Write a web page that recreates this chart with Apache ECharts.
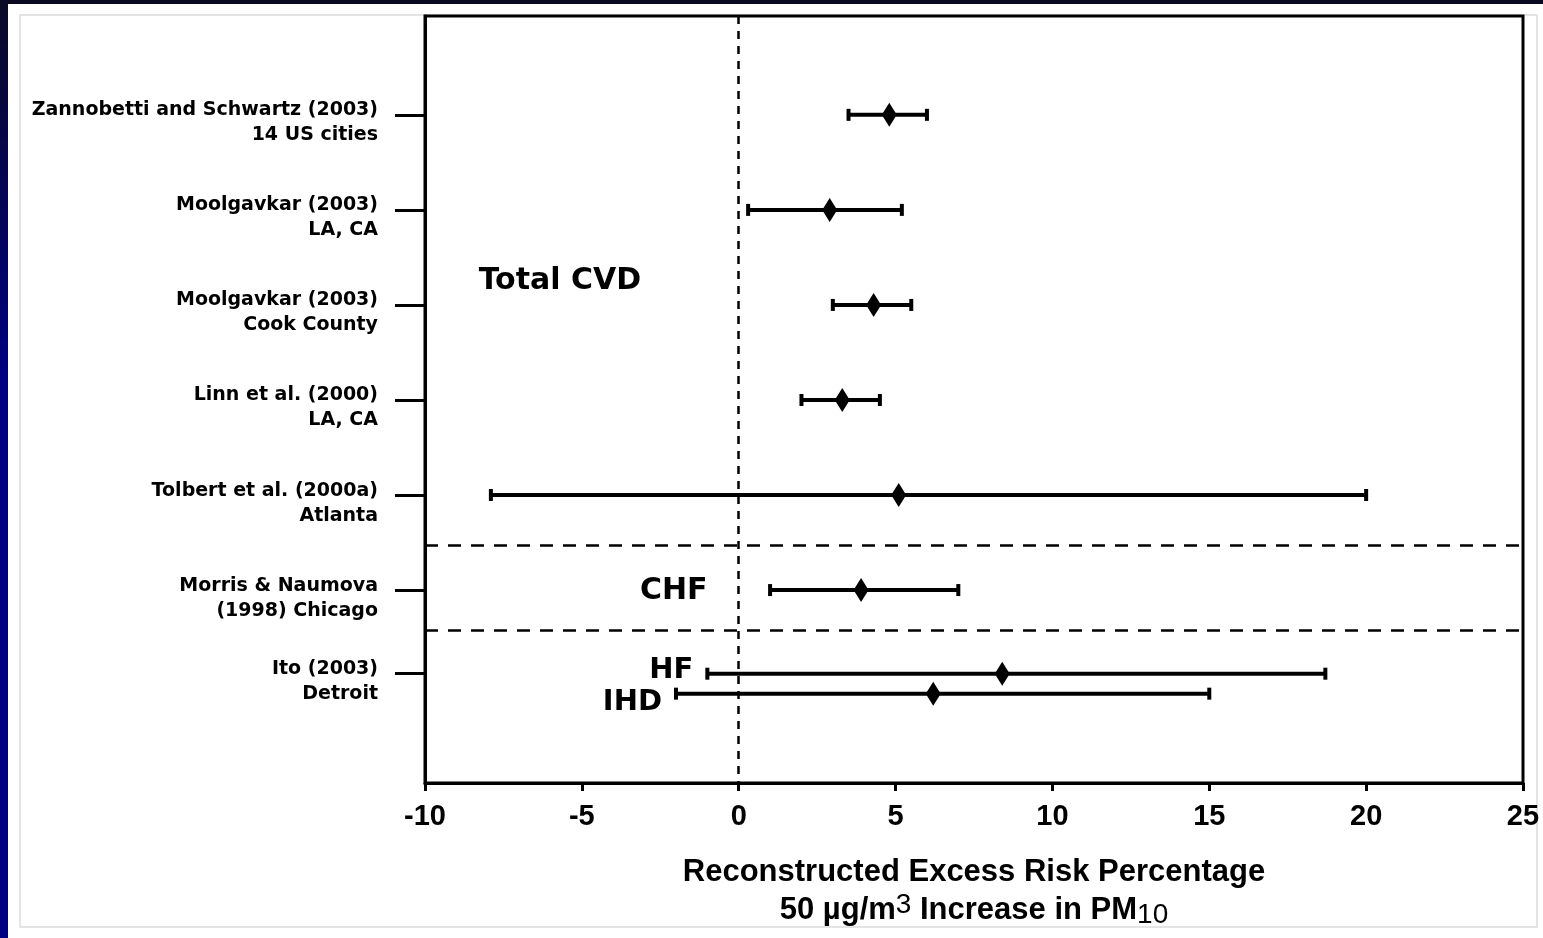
<!DOCTYPE html>
<html>
<head>
<meta charset="utf-8">
<script src="https://cdn.jsdelivr.net/npm/echarts@6/dist/echarts.min.js"></script>
<style>
	html, body { margin: 0; padding: 0; width: 1543px; height: 938px; overflow: hidden; background: #000080; }
	#topband { position: absolute; left: 0; top: 0; width: 1543px; height: 4px; background: #08081f; }
	#leftband { position: absolute; left: 0; top: 0; width: 8px; height: 938px; background: linear-gradient(#0a0a26, #000080 40%, #000080); }
	#chart { position: absolute; left: 8px; top: 4px; width: 1535px; height: 934px; background: #fff; }
</style>
</head>
<body>
<div id="topband"></div>
<div id="leftband"></div>
<div id="chart"></div>
<script>
// study rows on the y axis (ticks)
var rowLabels = [
	'Zannobetti and Schwartz (2003)\n14 US cities',
	'Moolgavkar (2003)\nLA, CA',
	'Moolgavkar (2003)\nCook County',
	'Linn et al. (2000)\nLA, CA',
	'Tolbert et al. (2000a)\nAtlanta',
	'Morris & Naumova\n(1998) Chicago',
	'Ito (2003)\nDetroit'
];
var rowPos = [0, 1, 2, 3, 4, 5, 5.88];

// estimates with confidence intervals
var estimate = [4.8, 2.9, 4.3, 3.3, 5.1, 3.9, 8.4, 6.2];
var lower = [3.5, 0.3, 3.0, 2.0, -7.9, 1.0, -1.0, -2.0];
var upper = [6.0, 5.2, 5.5, 4.5, 20.0, 7.0, 18.7, 15.0];
var barPos = [0, 1, 2, 3, 4, 5, 5.88, 6.09];
var barTags = ['', '', '', '', '', '', 'HF', 'IHD'];

// group annotations and separators
var groupNames = ['Total CVD', 'CHF'];
var groupX = [-5.7, -2.07];
var groupY = [1.75, 5.01];
var separators = [4.53, 5.42];

var labelFont = '"DejaVu Sans", Verdana, sans-serif';
var axisFont = '"Liberation Sans", Arial, sans-serif';

// study labels sit a little below their tick
var labelShift = 0.085;
var labelPos = rowPos.map(function (v) { return v + labelShift; });

var dom = document.getElementById('chart');
var myChart = echarts.init(dom, null, { renderer: 'canvas' });

var barData = [];
var pointData = [];
for (var i = 0; i < estimate.length; i++) {
	barData.push([lower[i], upper[i], barPos[i]]);
	pointData.push([estimate[i], barPos[i]]);
}
var groupData = [];
for (var i = 0; i < groupNames.length; i++) {
	groupData.push({ value: [groupX[i], groupY[i]], name: groupNames[i] });
}

var lineMarks = [{
	xAxis: 0,
	lineStyle: { color: '#000', width: 2.5, type: [8, 7] }
}];
for (var i = 0; i < separators.length; i++) {
	lineMarks.push({
		yAxis: separators[i],
		lineStyle: { color: '#000', width: 2.5, type: [13, 10] }
	});
}

// last tagged bar gets its label pushed down, the others up
var lastTag = -1;
for (var i = 0; i < barTags.length; i++) {
	if (barTags[i]) lastTag = i;
}

function renderBar(params, api) {
	var lo = api.coord([api.value(0), api.value(2)]);
	var hi = api.coord([api.value(1), api.value(2)]);
	var cap = 6;
	var st = { stroke: '#000', lineWidth: 4 };
	var children = [
		{ type: 'line', shape: { x1: lo[0], y1: lo[1], x2: hi[0], y2: hi[1] }, style: st },
		{ type: 'line', shape: { x1: lo[0], y1: lo[1] - cap, x2: lo[0], y2: lo[1] + cap }, style: st },
		{ type: 'line', shape: { x1: hi[0], y1: hi[1] - cap, x2: hi[0], y2: hi[1] + cap }, style: st }
	];
	var tag = barTags[params.dataIndex];
	if (tag) {
		var dy = params.dataIndex === lastTag ? 9 : -3;
		children.push({
			type: 'text',
			x: lo[0] - 14,
			y: lo[1] + dy,
			style: {
				text: tag,
				align: 'right',
				verticalAlign: 'middle',
				fill: '#000',
				font: 'bold 29px ' + labelFont
			}
		});
	}
	return { type: 'group', children: children };
}

var option = {
	backgroundColor: '#fff',
	animation: false,
	graphic: [{
		type: 'rect',
		shape: { x: 12, y: 11, width: 1517, height: 912 },
		style: { fill: 'none', stroke: '#dcdcdc', lineWidth: 1.5 },
		silent: true,
		z: -10
	}],
	grid: {
		left: 417,
		top: 12,
		right: 20,
		bottom: 155,
		show: true,
		borderColor: '#000',
		borderWidth: 3
	},
	xAxis: {
		type: 'value',
		min: -10,
		max: 25,
		interval: 5,
		splitLine: { show: false },
		axisLine: { onZero: false, lineStyle: { color: '#000', width: 3 } },
		axisTick: { length: 8, lineStyle: { color: '#000', width: 3 } },
		axisLabel: {
			color: '#000',
			fontFamily: axisFont,
			fontWeight: 'bold',
			fontSize: 29,
			margin: 19
		},
		name: '{a|Reconstructed Excess Risk Percentage}\n{b|50 µg/m}{sup|3}{b| Increase in PM}{sub|10}',
		nameLocation: 'middle',
		nameGap: 70,
		nameTextStyle: {
			color: '#000',
			rich: {
				a: { fontFamily: axisFont, fontWeight: 'bold', fontSize: 31, lineHeight: 38, color: '#000' },
				b: { fontFamily: axisFont, fontWeight: 'bold', fontSize: 31, lineHeight: 38, color: '#000' },
				sup: { fontFamily: axisFont, fontSize: 28, lineHeight: 28, verticalAlign: 'top', color: '#000' },
				sub: { fontFamily: axisFont, fontSize: 28, lineHeight: 28, verticalAlign: 'bottom', color: '#000' }
			}
		}
	},
	yAxis: {
		type: 'value',
		min: -1.04,
		max: 7.03,
		inverse: true,
		splitLine: { show: false },
		axisLine: { onZero: false, lineStyle: { color: '#000', width: 3 } },
		axisTick: { length: 30, customValues: rowPos, lineStyle: { color: '#000', width: 3 } },
		axisLabel: {
			customValues: labelPos,
			color: '#000',
			fontFamily: labelFont,
			fontWeight: 'bold',
			fontSize: 19,
			lineHeight: 25,
			margin: 47,
			align: 'right',
			formatter: function (v) {
				for (var i = 0; i < labelPos.length; i++) {
					if (Math.abs(labelPos[i] - v) < 0.01) return rowLabels[i];
				}
				return '';
			}
		}
	},
	series: [{
		name: 'ci',
		type: 'custom',
		renderItem: renderBar,
		data: barData,
		encode: { x: [0, 1], y: 2 },
		z: 2
	}, {
		name: 'estimate',
		type: 'scatter',
		symbol: 'diamond',
		symbolSize: [15, 24],
		itemStyle: { color: '#000', opacity: 1 },
		data: pointData,
		z: 3,
		markLine: {
			silent: true,
			symbol: 'none',
			label: { show: false },
			data: lineMarks
		}
	}, {
		name: 'groups',
		type: 'scatter',
		symbolSize: 0,
		itemStyle: { opacity: 1 },
		data: groupData,
		label: {
			show: true,
			position: 'inside',
			formatter: '{b}',
			color: '#000',
			fontFamily: labelFont,
			fontWeight: 'bold',
			fontSize: 30
		},
		z: 4
	}]
};

myChart.setOption(option);
window.addEventListener('resize', function () {
	myChart.resize();
});
</script>
</body>
</html>
